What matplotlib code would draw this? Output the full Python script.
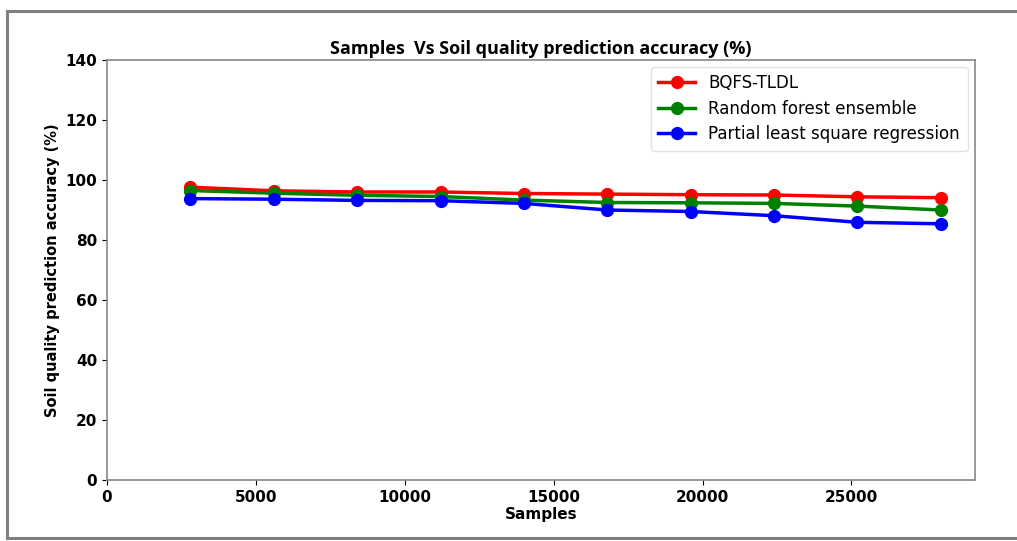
import matplotlib
matplotlib.use("Agg")
import matplotlib.pyplot as plt
from matplotlib.lines import Line2D

samples = [2800, 5600, 8400, 11200, 14000, 16800, 19600, 22400, 25200, 28000]
bqfs = [97.6, 96.4, 96.0, 96.0, 95.5, 95.3, 95.1, 95.0, 94.4, 94.1]
rfe = [96.5, 95.6, 94.9, 94.5, 93.3, 92.5, 92.4, 92.2, 91.3, 90.0]
plsr = [93.8, 93.6, 93.2, 93.1, 92.2, 90.0, 89.5, 88.1, 85.9, 85.4]
series_names = ["BQFS-TLDL", "Random forest ensemble", "Partial least square regression"]
colors = ["red", "green", "blue"]

W, H = 1017, 541
fig = plt.figure(figsize=(W / 100, H / 100), dpi=100)
ax = fig.add_axes([107 / W, 1 - 480 / H, (975 - 107) / W, (480 - 60) / H])

for vals, name, c in zip([bqfs, rfe, plsr], series_names, colors):
    ax.plot(samples, vals, color=c, marker="o", markersize=8.5, linewidth=2.5, label=name)

ax.set_xlim(0, 29150)
ax.set_ylim(0, 140)
ax.set_xticks([0, 5000, 10000, 15000, 20000, 25000])
ax.set_yticks(range(0, 141, 20))
for lab in ax.get_xticklabels() + ax.get_yticklabels():
    lab.set_fontweight("bold")
    lab.set_fontsize(11)
ax.set_xlabel("Samples", fontweight="bold", fontsize=11, labelpad=2)
ax.set_ylabel("Soil quality prediction accuracy (%)", fontweight="bold", fontsize=10.5)
ax.set_title("Samples  Vs Soil quality prediction accuracy (%)", fontweight="bold",
             fontsize=13, family="Open Sans", pad=4)
for s in ax.spines.values():
    s.set_color("#888888")
    s.set_linewidth(1.2)

ax.legend(loc="upper right", fontsize=12, frameon=True, edgecolor="#dddddd",
          handlelength=2.2, borderpad=0.45, labelspacing=0.45,
          bbox_to_anchor=(1.001, 1.004))

# outer frame
fig.add_artist(Line2D([7 / W, 1.0], [1 - 11 / H, 1 - 11 / H], transform=fig.transFigure,
                      color="#808080", linewidth=2.2))
fig.add_artist(Line2D([7 / W, 7 / W], [1 - 11 / H, 1 - 538 / H], transform=fig.transFigure,
                      color="#808080", linewidth=2.2))
fig.add_artist(Line2D([7 / W, 1.0], [1 - 538 / H, 1 - 538 / H], transform=fig.transFigure,
                      color="#808080", linewidth=2.2))

fig.savefig("out.png", dpi=100)
